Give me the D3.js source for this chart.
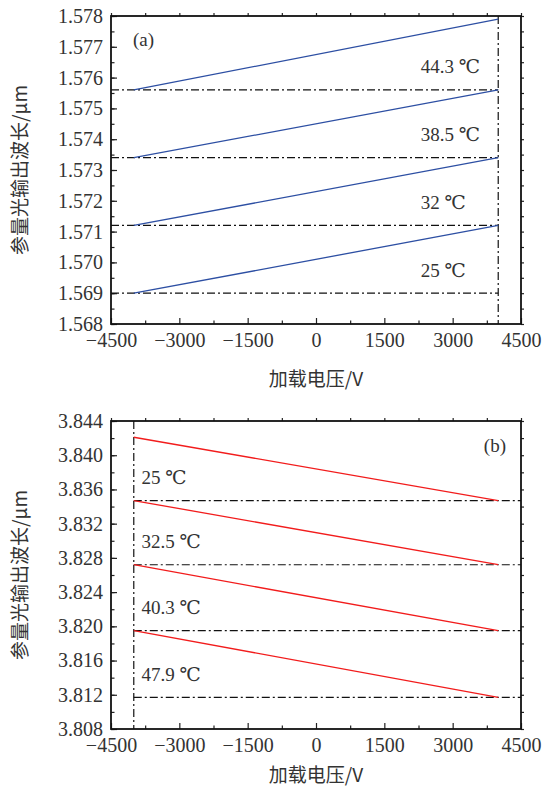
<!DOCTYPE html>
<html>
<head>
<meta charset="utf-8">
<script src="https://cdn.jsdelivr.net/npm/d3@7"></script>
<style>
  body { margin: 0; background: #fff; }
  text { fill: #333; }
</style>
</head>
<body>
<div id="chart"></div>
<script>
const width = 559, height = 790;

// shared x axis (loading voltage, V)
const voltage = [-4000, 4000];
const xTicks = [-4500, -3000, -1500, 0, 1500, 3000, 4500];

// panel (a): 1.5 um branch, wavelength rises with voltage
const tempsA = ['25 ℃', '32 ℃', '38.5 ℃', '44.3 ℃'];
const startA = [1.5690, 1.5712, 1.5734, 1.5756];
const endA = [1.5712, 1.5734, 1.5756, 1.5779];
const levelsA = [1.5690, 1.5712, 1.5734, 1.5756];
const yTicksA = [1.568, 1.569, 1.570, 1.571, 1.572, 1.573, 1.574, 1.575, 1.576, 1.577, 1.578];

// panel (b): 3.8 um branch, wavelength falls with voltage
const tempsB = ['25 ℃', '32.5 ℃', '40.3 ℃', '47.9 ℃'];
const startB = [3.8421, 3.8347, 3.8272, 3.8195];
const endB = [3.8347, 3.8272, 3.8195, 3.8117];
const levelsB = [3.8347, 3.8272, 3.8195, 3.8117];
const yTicksB = [3.808, 3.812, 3.816, 3.820, 3.824, 3.828, 3.832, 3.836, 3.840, 3.844];

const svg = d3.select('#chart')
  .append('svg')
  .attr('width', width)
  .attr('height', height)
  .attr('viewBox', [0, 0, width, height]);

const serif = "Liberation Serif, Tinos, DejaVu Serif, Noto Serif, serif";
const cjk = "Noto Sans CJK SC, sans-serif";
const dashDot = '8,3,2,3';

function drawPanel(cfg) {
  const left = 111, right = 521, top = cfg.top, bottom = cfg.top + 308;
  const g = svg.append('g');

  const x = d3.scaleLinear().domain([-4500, 4500]).range([left, right]);
  const y = d3.scaleLinear().domain(cfg.yDomain).range([bottom, top]);

  const xMinor = d3.range(-4500, 4501, 750);
  const yMinor = d3.range(cfg.yDomain[0], cfg.yDomain[1] + cfg.minorStep / 2, cfg.minorStep);

  // bottom axis with labels, ticks inward
  g.append('g')
    .attr('transform', `translate(0,${bottom})`)
    .call(d3.axisBottom(x).tickValues(xTicks).tickSize(-6).tickPadding(9).tickFormat(d3.format('d')))
    .call(a => a.select('.domain').remove())
    .call(a => a.attr('font-family', serif).attr('font-size', 20))
    .call(a => a.selectAll('text').style('font-family', serif).style('fill', '#333'));
  g.append('g')
    .attr('transform', `translate(0,${bottom})`)
    .call(d3.axisBottom(x).tickValues(xMinor.filter(v => !xTicks.includes(v))).tickSize(-3.5).tickFormat(''))
    .call(a => a.select('.domain').remove());

  // left axis with labels, ticks inward
  g.append('g')
    .attr('transform', `translate(${left},0)`)
    .call(d3.axisLeft(y).tickValues(cfg.yTicks).tickSize(-6).tickPadding(8).tickFormat(d3.format('.3f')))
    .call(a => a.select('.domain').remove())
    .call(a => a.attr('font-family', serif).attr('font-size', 20))
    .call(a => a.selectAll('text').style('font-family', serif).style('fill', '#333'));
  g.append('g')
    .attr('transform', `translate(${left},0)`)
    .call(d3.axisLeft(y).tickValues(yMinor).tickSize(-3.5).tickFormat(''))
    .call(a => a.select('.domain').remove());

  // mirrored small ticks on top and right
  g.append('g')
    .attr('transform', `translate(0,${top})`)
    .call(d3.axisTop(x).tickValues(xMinor).tickSize(3).tickFormat(''))
    .call(a => a.select('.domain').remove());
  g.append('g')
    .attr('transform', `translate(${right},0)`)
    .call(d3.axisRight(y).tickValues(yMinor).tickSize(3).tickFormat(''))
    .call(a => a.select('.domain').remove());

  g.selectAll('.tick line').attr('stroke', '#222').attr('stroke-width', 1.2);

  // dash-dot reference lines
  g.append('line')
    .attr('x1', x(cfg.vLine)).attr('x2', x(cfg.vLine))
    .attr('y1', top).attr('y2', bottom)
    .attr('stroke', '#111').attr('stroke-width', 1.2)
    .attr('stroke-dasharray', dashDot);

  g.selectAll('.level')
    .data(cfg.levels)
    .join('line')
    .attr('class', 'level')
    .attr('x1', x(cfg.hFrom)).attr('x2', x(cfg.hTo))
    .attr('y1', d => y(d)).attr('y2', d => y(d))
    .attr('stroke', '#111').attr('stroke-width', 1.2)
    .attr('stroke-dasharray', dashDot);

  // wavelength vs voltage lines
  const line = d3.line().x(d => x(d[0])).y(d => y(d[1]));
  g.selectAll('.series')
    .data(cfg.starts.map((s, i) => [[voltage[0], s], [voltage[1], cfg.ends[i]]]))
    .join('path')
    .attr('class', 'series')
    .attr('d', line)
    .attr('fill', 'none')
    .attr('stroke', cfg.color)
    .attr('stroke-width', 1.3);

  // temperature labels
  g.selectAll('.temp')
    .data(cfg.temps)
    .join('text')
    .attr('class', 'temp')
    .attr('x', x(cfg.labelX))
    .attr('y', (d, i) => y(cfg.levels[i]) - 21)
    .attr('dominant-baseline', 'middle')
    .style('font-family', serif)
    .attr('font-size', 19)
    .text(d => d);

  // frame
  g.append('rect')
    .attr('x', left).attr('y', top)
    .attr('width', right - left).attr('height', bottom - top)
    .attr('fill', 'none').attr('stroke', '#111').attr('stroke-width', 1.8);

  // panel tag
  g.append('text')
    .attr('x', cfg.tagX).attr('y', top + cfg.tagDy)
    .attr('text-anchor', cfg.tagAnchor)
    .attr('dominant-baseline', 'middle')
    .style('font-family', serif)
    .attr('font-size', 19)
    .text(cfg.tag);

  // axis titles
  g.append('text')
    .attr('x', (left + right) / 2)
    .attr('y', bottom + cfg.titleDy)
    .attr('text-anchor', 'middle')
    .attr('dominant-baseline', 'middle')
    .style('font-family', cjk)
    .attr('font-size', 19)
    .text('加载电压/V');

  g.append('text')
    .attr('transform', `translate(22,${(top + bottom) / 2}) rotate(-90)`)
    .attr('text-anchor', 'middle')
    .attr('dominant-baseline', 'middle')
    .style('font-family', cjk)
    .attr('font-size', 19)
    .text('参量光输出波长/μm');
}

drawPanel({
  top: 16, yDomain: [1.568, 1.578], yTicks: yTicksA, minorStep: 0.0005,
  starts: startA, ends: endA, levels: levelsA, temps: tempsA,
  color: '#2d4fa3', vLine: 4000, hFrom: -4500, hTo: 4000, labelX: 2300,
  tag: '(a)', tagX: 133, tagDy: 26, tagAnchor: 'start', titleDy: 57
});

drawPanel({
  top: 421, yDomain: [3.808, 3.844], yTicks: yTicksB, minorStep: 0.002,
  starts: startB, ends: endB, levels: levelsB, temps: tempsB,
  color: '#f21c1c', vLine: -4000, hFrom: -4000, hTo: 4500, labelX: -3830,
  tag: '(b)', tagX: 506, tagDy: 27, tagAnchor: 'end', titleDy: 48
});
</script>
</body>
</html>
